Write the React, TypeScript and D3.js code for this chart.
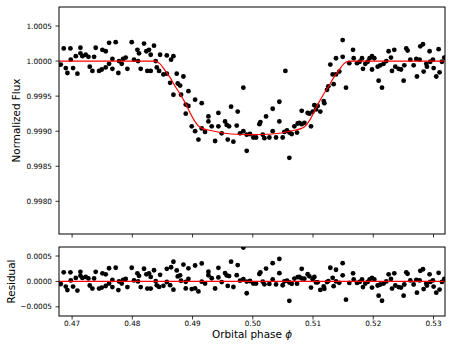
import React from 'react';
import * as d3 from 'd3';

const phase = [
  0.46812, 0.46861, 0.46895, 0.46922, 0.46972, 0.46978, 0.47016, 0.47061, 0.47088, 0.47138,
  0.47138, 0.47171, 0.47226, 0.47271, 0.47293, 0.47337, 0.47365, 0.47392, 0.47448, 0.47492,
  0.47503, 0.47558, 0.47558, 0.47614, 0.47614, 0.47669, 0.47669, 0.47724, 0.47768, 0.47779,
  0.47824, 0.47846, 0.4789, 0.47918, 0.4799, 0.48028, 0.48084, 0.48095, 0.48111, 0.48139,
  0.48194, 0.48233, 0.48249, 0.48277, 0.48305, 0.48305, 0.4836, 0.48388,
  0.48406, 0.48444, 0.48461, 0.48516, 0.48572, 0.48572, 0.48627, 0.48643, 0.48682, 0.48682,
  0.48737, 0.48754, 0.48793, 0.48809, 0.48848, 0.48887, 0.48887, 0.48931, 0.48931, 0.48986,
  0.49042, 0.49042, 0.49097, 0.49152, 0.49152, 0.49207, 0.49263, 0.49263, 0.49318, 0.49374,
  0.49429, 0.49429, 0.49484, 0.49539, 0.49567, 0.49584, 0.49606, 0.49639, 0.49678, 0.49733,
  0.49749, 0.49788, 0.49843, 0.49843, 0.49899, 0.49899, 0.49954, 0.50009,
  0.50054, 0.50109, 0.50126, 0.50165, 0.50192, 0.5022, 0.50275, 0.5033, 0.5033, 0.50386,
  0.50441, 0.50441, 0.50496, 0.50524, 0.50541, 0.50568, 0.50607, 0.50607, 0.50646, 0.5069,
  0.50734, 0.50745, 0.50773, 0.50812, 0.50812, 0.50856, 0.50911, 0.50939, 0.50966, 0.50994,
  0.51022, 0.51049, 0.51077, 0.51121, 0.51177, 0.51188, 0.51232, 0.51254, 0.51287, 0.51326,
  0.51342, 0.51381, 0.51381, 0.51436, 0.51492, 0.51492, 0.51547, 0.51602,
  0.51664, 0.51675, 0.5173, 0.51774, 0.51813, 0.51829, 0.51868, 0.51907, 0.5194, 0.51979,
  0.51979, 0.52017, 0.52073, 0.52089, 0.52117, 0.52145, 0.52172, 0.52217, 0.52255, 0.52294,
  0.52311, 0.52349, 0.52366, 0.52421, 0.5246, 0.52504, 0.52515, 0.52548, 0.5257, 0.52615,
  0.5267, 0.52714, 0.52725, 0.5277, 0.52781, 0.52825, 0.52836, 0.5288, 0.52891, 0.52935,
  0.52946, 0.52991, 0.53002, 0.53046, 0.53085, 0.53101, 0.5314, 0.53179,
];
const flux = [
  0.99995, 1.00018, 0.9999, 0.99983, 1.00018, 1.00002, 0.9999, 1.00007, 0.99982, 1.00019,
  1.00011, 1.00007, 1.00009, 1.00006, 0.99992, 0.99986, 1.00006, 1.00019, 0.99986, 0.99988,
  1.00016, 1.00014, 0.99991, 1.00026, 0.99996, 1.00003, 0.99989, 1.00027, 0.99983, 1.0,
  0.99996, 1.00003, 1.00005, 0.99989, 1.00027, 1.00002, 1.00016, 1.0, 1.00011, 0.99989,
  1.00025, 1.00014, 0.99986, 1.00016, 1.00009, 0.99986, 1.00022, 1.0,
  0.99991, 0.99986, 1.00009, 0.99981, 1.00008, 0.99982, 0.99969, 1.00002, 1.00007, 0.99952,
  0.99982, 0.99968, 0.99965, 0.99952, 0.99978, 0.99938, 0.99925, 0.99957, 0.99936, 0.99907,
  0.99945, 0.999, 0.99888, 0.9994, 0.99904, 0.99899, 0.99921, 0.99914, 0.99907, 0.99886,
  0.99926, 0.99907, 0.99897, 0.99914, 0.99909, 0.99888, 0.99907, 0.99935, 0.99885, 0.99908,
  0.99928, 0.99897, 0.99962, 0.999, 0.99895, 0.99872, 0.99896, 0.99891,
  0.99891, 0.9991, 0.99913, 0.99895, 0.9989, 0.99921, 0.99891, 0.999, 0.99932, 0.99891,
  0.99942, 0.99914, 0.99891, 0.99899, 0.99986, 0.99901, 0.99898, 0.99862, 0.99896, 0.99907,
  0.99898, 0.99911, 0.99912, 0.99929, 0.9991, 0.99912, 0.99926, 0.99925, 0.99907, 0.99928,
  0.99937, 0.99931, 0.99936, 0.99928, 0.99943, 0.9994, 0.99959, 0.99964, 0.99995, 0.99981,
  0.99967, 1.00004, 0.99981, 0.99985, 1.00006, 1.0003, 0.99962, 0.99997,
  1.00016, 1.00004, 0.99997, 0.99999, 1.00004, 0.99989, 0.99996, 0.99999, 1.00004, 1.00007,
  0.99988, 1.00004, 0.99992, 0.99972, 0.99994, 0.99962, 0.99996, 1.0, 1.00014, 1.00005,
  0.99986, 1.00016, 0.99992, 0.99989, 0.99988, 0.99972, 0.99994, 1.00018, 1.00015, 1.00002,
  0.99994, 1.00003, 0.99978, 1.00002, 1.00021, 1.00024, 0.99985, 0.99996, 0.99992, 1.00014,
  0.99999, 1.00002, 0.9999, 0.99978, 1.00017, 0.99984, 0.99999, 1.00005,
];

// Transit model (red curve)
const modelPhase = [
  0.4678, 0.4838, 0.4846, 0.4854, 0.4863, 0.4871, 0.488, 0.4888, 0.4896, 0.4903, 0.4909,
  0.4916, 0.493, 0.4964, 0.49985, 0.5033, 0.5067, 0.5081, 0.5088, 0.5094, 0.5101, 0.5109,
  0.5117, 0.5126, 0.5134, 0.5143, 0.5151, 0.5159, 0.532,
];
const modelFlux = [
  1.0, 1.0, 0.99996, 0.99987, 0.99976, 0.99964, 0.99952, 0.9994, 0.99926, 0.99915, 0.99908,
  0.99904, 0.99901, 0.99896, 0.99895, 0.99896, 0.99901, 0.99904, 0.99908, 0.99915, 0.99926,
  0.9994, 0.99952, 0.99964, 0.99976, 0.99987, 0.99996, 1.0, 1.0,
];

const phaseTicks = [0.47, 0.48, 0.49, 0.5, 0.51, 0.52, 0.53];
const phaseTickLabels = ['0.47', '0.48', '0.49', '0.50', '0.51', '0.52', '0.53'];
const fluxTicks = [0.998, 0.9985, 0.999, 0.9995, 1.0, 1.0005];
const fluxTickLabels = ['0.9980', '0.9985', '0.9990', '0.9995', '1.0000', '1.0005'];
const residTicks = [-0.0005, 0, 0.0005];
const residTickLabels = ['\u22120.0005', '0.0000', '0.0005'];

const FONT = 'DejaVu Sans';

export default function App() {
  const W = 453, H = 347;
  const L = 59, R = 445, T1 = 7, B1 = 234, T2 = 247, B2 = 316;
  const x = d3.scaleLinear().domain([0.467825, 0.531909]).range([L, R]);
  const y1 = d3.scaleLinear().domain([0.997534, 1.000771]).range([B1, T1]);
  const y2 = d3.scaleLinear().domain([-0.00068, 0.000678]).range([B2, T2]);
  const model = d3.scaleLinear().domain(modelPhase).range(modelFlux).clamp(true);

  const modelLine = d3
    .line<number>()
    .x((_, i) => x(modelPhase[i]))
    .y((d) => y1(d))
    .curve(d3.curveMonotoneX)(modelFlux) as string;

  const tickLen = 3.5;
  const tickFs = 7.3;
  const labelFs = 10.4;

  return (
    <svg width={W} height={H} style={{ position: 'absolute', left: 0, top: 0, background: '#fff' }}
      fontFamily={FONT}>
      <defs>
        <clipPath id="c1"><rect x={L} y={T1} width={R - L} height={B1 - T1} /></clipPath>
        <clipPath id="c2"><rect x={L} y={T2} width={R - L} height={B2 - T2} /></clipPath>
      </defs>
      <rect x={0} y={0} width={W} height={H} fill="#fff" />

      {/* Top panel */}
      <g clipPath="url(#c1)">
        {phase.map((p, i) => (
          <circle key={i} cx={x(p)} cy={y1(flux[i])} r={2.4} fill="#000" />
        ))}
        <path d={modelLine} fill="none" stroke="#ff0000" strokeWidth={1.2} />
      </g>
      <rect x={L} y={T1} width={R - L} height={B1 - T1} fill="none" stroke="#000" strokeWidth={1} />
      {phaseTicks.map((t, i) => (
        <line key={'xt1' + i} x1={x(t)} x2={x(t)} y1={B1} y2={B1 + tickLen} stroke="#000" strokeWidth={0.8} />
      ))}
      {fluxTicks.map((t, i) => (
        <g key={'yt1' + i}>
          <line x1={L - tickLen} x2={L} y1={y1(t)} y2={y1(t)} stroke="#000" strokeWidth={0.8} />
          <text x={L - tickLen - 3.5} y={y1(t)} dy="0.36em" textAnchor="end" fontSize={tickFs} fill="#000">
            {fluxTickLabels[i]}
          </text>
        </g>
      ))}
      <text transform={`translate(19.5, ${(T1 + B1) / 2}) rotate(-90)`} textAnchor="middle"
        fontSize={labelFs} fill="#000">Normalized Flux</text>

      {/* Residual panel */}
      <g clipPath="url(#c2)">
        {phase.map((p, i) => (
          <circle key={i} cx={x(p)} cy={y2(flux[i] - model(p))} r={2.4} fill="#000" />
        ))}
        <line x1={L} x2={R} y1={y2(0)} y2={y2(0)} stroke="#ff0000" strokeWidth={1.2} />
      </g>
      <rect x={L} y={T2} width={R - L} height={B2 - T2} fill="none" stroke="#000" strokeWidth={1} />
      {phaseTicks.map((t, i) => (
        <g key={'xt2' + i}>
          <line x1={x(t)} x2={x(t)} y1={B2} y2={B2 + tickLen} stroke="#000" strokeWidth={0.8} />
          <text x={x(t)} y={326} textAnchor="middle" fontSize={tickFs} fill="#000">
            {phaseTickLabels[i]}
          </text>
        </g>
      ))}
      {residTicks.map((t, i) => (
        <g key={'yt2' + i}>
          <line x1={L - tickLen} x2={L} y1={y2(t)} y2={y2(t)} stroke="#000" strokeWidth={0.8} />
          <text x={L - tickLen - 3.5} y={y2(t)} dy="0.36em" textAnchor="end" fontSize={tickFs} fill="#000">
            {residTickLabels[i]}
          </text>
        </g>
      ))}
      <text transform={`translate(15, ${(T2 + B2) / 2}) rotate(-90)`} textAnchor="middle"
        fontSize={labelFs} fill="#000">Residual</text>
      <text x={(L + R) / 2} y={338.2} textAnchor="middle" fontSize={labelFs} fill="#000">
        Orbital phase <tspan fontStyle="italic">{'\u03D5'}</tspan>
      </text>
    </svg>
  );
}
